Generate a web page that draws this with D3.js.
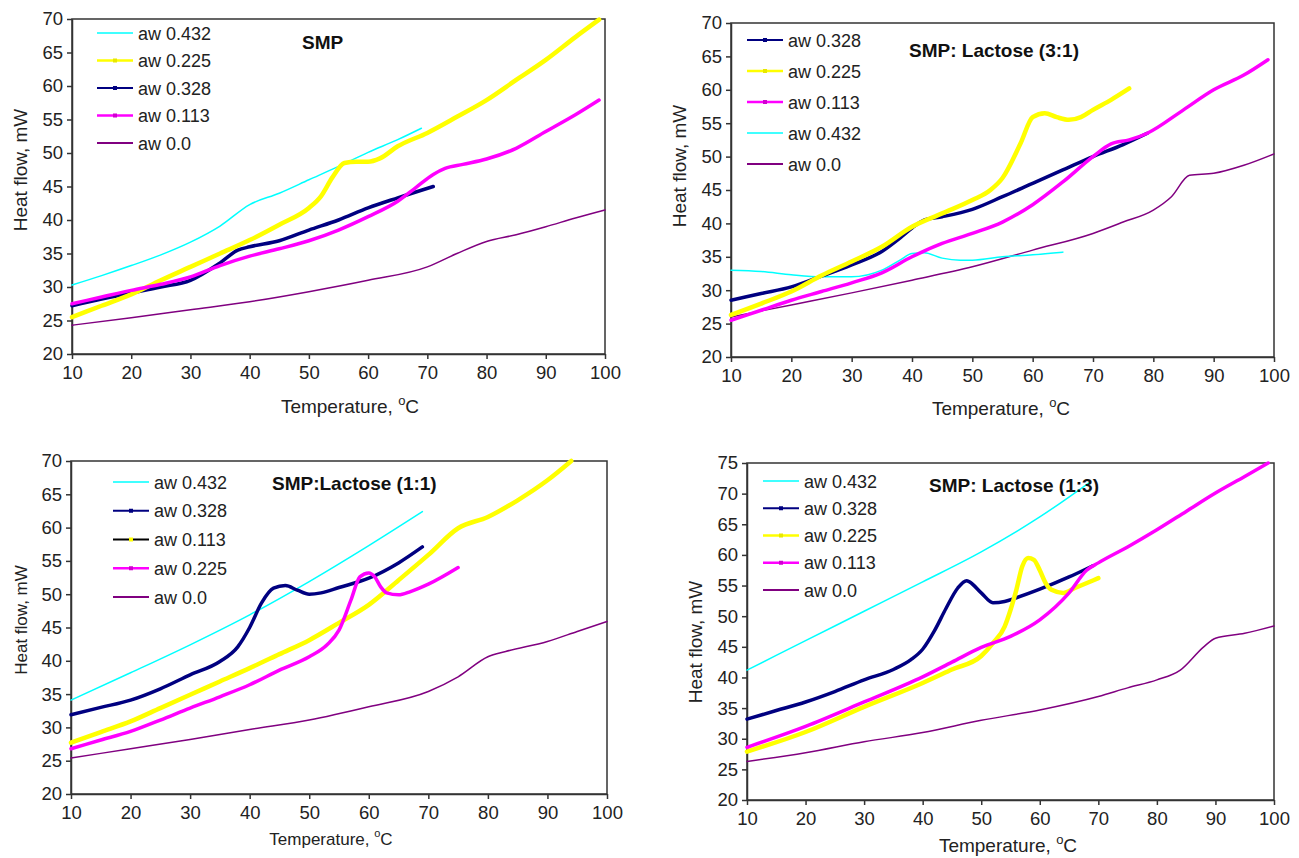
<!DOCTYPE html>
<html>
<head>
<meta charset="utf-8">
<script src="https://cdn.jsdelivr.net/npm/d3@7.9.0/dist/d3.min.js"></script>
<style>
  body { margin: 0; background: #fff; }
  svg { display: block; font-family: "Liberation Sans", Arial, sans-serif; }
</style>
</head>
<body>
<script>
// tick labels
const xTicks = [10, 20, 30, 40, 50, 60, 70, 80, 90, 100];
const yTicks70 = [20, 25, 30, 35, 40, 45, 50, 55, 60, 65, 70];
const yTicks75 = [20, 25, 30, 35, 40, 45, 50, 55, 60, 65, 70, 75];

// SMP  [temperature, heat flow]
const smp432 = [[10,30.3],[15,31.7],[20,33.2],[25,34.8],[30,36.7],[35,39.1],[40,42.3],[45,44.0],[50,46.0],[55,48.0],[60,50.1],[65,52.0],[69,53.7]];
const smp225 = [[10,25.5],[15,27.2],[20,28.9],[25,31.0],[30,33.0],[35,35.0],[40,37.0],[45,39.3],[50,41.8],[52,43.5],[54,46.4],[56,48.5],[58,48.7],[60,48.7],[62,49.2],[65,51.0],[70,53.0],[75,55.4],[80,57.9],[85,60.9],[90,63.9],[95,67.3],[99,69.9]];
const smp328 = [[10,27.2],[15,28.2],[20,29.1],[25,30.0],[30,31.0],[35,33.6],[38,35.5],[40,36.0],[45,36.9],[50,38.5],[55,40.0],[60,41.8],[65,43.3],[71,45.0]];
const smp113 = [[10,27.5],[15,28.5],[20,29.5],[25,30.4],[30,31.5],[35,33.2],[40,34.6],[45,35.7],[50,36.9],[55,38.5],[60,40.5],[65,42.8],[68,44.8],[71,46.8],[73,47.7],[76,48.3],[80,49.1],[85,50.7],[90,53.2],[95,55.7],[99,57.9]];
const smp0 = [[10,24.3],[20,25.4],[30,26.6],[40,27.8],[50,29.3],[60,31.0],[70,33.0],[75,35.0],[80,36.8],[85,37.8],[90,39.0],[95,40.3],[100,41.5]];

// SMP: Lactose (3:1)
const l31_328 = [[10,28.5],[15,29.5],[20,30.5],[25,32.1],[30,33.8],[35,35.8],[38,37.8],[40,39.3],[42,40.5],[45,41.0],[50,42.1],[55,44.0],[60,46.0],[65,48.0],[70,50.0],[75,51.8],[79,53.5]];
const l31_225 = [[10,26.3],[15,28.0],[20,29.8],[25,32.2],[30,34.3],[35,36.5],[40,39.5],[45,41.5],[50,43.5],[53,45.0],[55,46.8],[58,52.0],[60,55.9],[62,56.5],[64,55.9],[66,55.5],[68,55.9],[70,57.0],[73,58.5],[76,60.2]];
const l31_113 = [[10,25.5],[15,27.0],[20,28.5],[25,29.8],[30,31.1],[35,32.6],[40,35.0],[45,37.0],[50,38.5],[55,40.2],[60,42.8],[65,46.2],[70,50.0],[73,51.9],[76,52.5],[79,53.5],[85,57.0],[90,60.0],[95,62.2],[99,64.5]];
const l31_432 = [[10,33.0],[15,32.8],[20,32.3],[25,32.0],[30,32.0],[35,33.0],[38,34.5],[40,35.5],[42,35.6],[45,34.8],[48,34.5],[50,34.5],[55,35.0],[60,35.3],[65,35.7]];
const l31_0 = [[10,26.0],[20,27.8],[30,29.6],[40,31.5],[50,33.5],[60,36.0],[70,38.5],[75,40.2],[80,42.0],[83,44.0],[86,47.2],[90,47.5],[95,48.7],[100,50.4]];

// SMP:Lactose (1:1)
const l11_432 = [[10,34.1],[20,38.2],[30,42.4],[40,46.9],[50,51.9],[60,57.3],[69,62.4]];
const l11_328 = [[10,31.9],[15,33.0],[20,34.1],[25,35.8],[30,37.9],[35,39.9],[38,42.1],[40,45.0],[42,48.7],[44,50.9],[46,51.3],[48,50.6],[50,50.0],[52,50.2],[55,51.0],[60,52.4],[65,54.7],[69,57.1]];
const l11_113 = [[10,27.7],[15,29.3],[20,30.9],[25,32.9],[30,34.9],[35,36.9],[40,38.9],[45,41.0],[50,43.1],[55,45.7],[60,48.4],[65,52.1],[70,55.9],[75,59.9],[80,61.6],[85,64.1],[90,67.1],[94,70.0]];
const l11_225 = [[10,26.8],[15,28.1],[20,29.4],[25,31.1],[30,32.9],[35,34.6],[40,36.4],[45,38.6],[50,40.6],[53,42.4],[55,44.6],[57,49.1],[58.5,52.6],[60,53.2],[61,52.6],[62,51.1],[63,50.2],[65,49.9],[67,50.4],[70,51.5],[75,54.0]];
const l11_0 = [[10,25.4],[20,26.8],[30,28.2],[40,29.7],[50,31.1],[60,33.1],[70,35.4],[75,37.6],[80,40.6],[83,41.4],[90,42.9],[95,44.4],[100,45.9]];

// SMP: Lactose (1:3)
const l13_432 = [[10,41.2],[20,46.0],[30,50.8],[40,55.6],[50,60.5],[60,66.2],[68.6,71.9]];
const l13_328 = [[10,33.2],[15,34.6],[20,36.0],[25,37.7],[30,39.6],[35,41.3],[38,42.9],[40,44.6],[42,47.6],[44,51.3],[46,54.6],[47.5,55.8],[48,55.6],[50,53.8],[52,52.2],[54,52.4],[56,53.0],[60,54.4],[65,56.4],[69,58.2]];
const l13_225 = [[10,27.9],[20,31.1],[30,35.2],[40,39.1],[45,41.3],[50,43.5],[52,45.6],[54,48.3],[55,51.0],[56,54.3],[57,58.1],[58,59.5],[59,59.2],[60,57.5],[61,55.4],[62,54.3],[64,53.8],[66,54.6],[70,56.2]];
const l13_113 = [[10,28.6],[20,32.0],[30,36.0],[40,40.1],[45,42.5],[50,44.9],[55,46.7],[60,49.4],[65,53.8],[68,57.5],[70,58.7],[75,61.3],[80,64.1],[85,67.1],[90,70.1],[95,72.8],[99,75.0]];
const l13_0 = [[10,26.3],[20,27.7],[30,29.5],[40,31.0],[50,33.0],[60,34.7],[70,36.9],[75,38.3],[80,39.6],[84,41.2],[88,45.0],[90,46.4],[95,47.2],[100,48.4]];

const titles = ['SMP', 'SMP: Lactose (3:1)', 'SMP:Lactose (1:1)', 'SMP: Lactose (1:3)'];

// line styles
const sty = {
  cyan:    { color: '#00ffff', width: 1.5, legW: 1.5 },
  yellow:  { color: '#ffff00', width: 4.5, legW: 2.5, mark: '#e8e800' },
  navy:    { color: '#000080', width: 3.5, legW: 2, mark: '#000080' },
  magenta: { color: '#ff00ff', width: 3.5, legW: 2.5, mark: '#d000d0' },
  purple:  { color: '#800080', width: 1.5, legW: 2 },
};

const panels = [
  {
    title: titles[0], tx: 302, ty: 49,
    left: 72, right: 605, top: 19, bottom: 354, yMax: 70, yTicks: yTicks70,
    xt: { x: 350, y: 413, size: 19 }, yt: { x: 27, y: 170, size: 19 },
    leg: { x: 97, y: 33, dy: 27.5 },
    draw: [['purple', smp0], ['cyan', smp432], ['navy', smp328], ['yellow', smp225], ['magenta', smp113]],
    legend: [['aw 0.432', 'cyan'], ['aw 0.225', 'yellow'], ['aw 0.328', 'navy'], ['aw 0.113', 'magenta'], ['aw 0.0', 'purple']],
  },
  {
    title: titles[1], tx: 909, ty: 57,
    left: 731, right: 1274, top: 23, bottom: 357, yMax: 70, yTicks: yTicks70,
    xt: { x: 1001, y: 415, size: 19 }, yt: { x: 686, y: 166, size: 19 },
    leg: { x: 747, y: 40, dy: 31 },
    draw: [['purple', l31_0], ['cyan', l31_432], ['navy', l31_328], ['yellow', l31_225], ['magenta', l31_113]],
    legend: [['aw 0.328', 'navy'], ['aw 0.225', 'yellow'], ['aw 0.113', 'magenta'], ['aw 0.432', 'cyan'], ['aw 0.0', 'purple']],
  },
  {
    title: titles[2], tx: 272, ty: 490,
    left: 71, right: 607, top: 461, bottom: 794, yMax: 70, yTicks: yTicks70,
    xt: { x: 331, y: 845, size: 17 }, yt: { x: 27, y: 620, size: 17 },
    leg: { x: 113, y: 482, dy: 28.75 },
    draw: [['purple', l11_0], ['cyan', l11_432], ['navy', l11_328], ['yellow', l11_113], ['magenta', l11_225]],
    legend: [['aw 0.432', 'cyan'], ['aw 0.328', 'navy'], ['aw 0.113', 'black'], ['aw 0.225', 'magenta'], ['aw 0.0', 'purple']],
  },
  {
    title: titles[3], tx: 929, ty: 492,
    left: 747, right: 1274, top: 463, bottom: 800, yMax: 75, yTicks: yTicks75,
    xt: { x: 1008, y: 852, size: 19 }, yt: { x: 702, y: 642, size: 19 },
    leg: { x: 763, y: 481, dy: 27.25 },
    draw: [['purple', l13_0], ['cyan', l13_432], ['navy', l13_328], ['yellow', l13_225], ['magenta', l13_113]],
    legend: [['aw 0.432', 'cyan'], ['aw 0.328', 'navy'], ['aw 0.225', 'yellow'], ['aw 0.113', 'magenta'], ['aw 0.0', 'purple']],
  },
];

const svg = d3.select('body').append('svg').attr('width', 1299).attr('height', 858);

function drawPanel(p) {
  const x = d3.scaleLinear().domain([10, 100]).range([p.left, p.right]);
  const y = d3.scaleLinear().domain([20, p.yMax]).range([p.bottom, p.top]);
  const g = svg.append('g');

  g.append('rect')
    .attr('x', p.left).attr('y', p.top)
    .attr('width', p.right - p.left).attr('height', p.bottom - p.top)
    .attr('fill', 'none').attr('stroke', '#333').attr('stroke-width', 1.5);

  const xa = g.append('g').attr('transform', `translate(0,${p.bottom})`)
    .call(d3.axisBottom(x).tickValues(xTicks).tickSize(5).tickSizeOuter(0).tickPadding(7));
  const ya = g.append('g').attr('transform', `translate(${p.left},0)`)
    .call(d3.axisLeft(y).tickValues(p.yTicks).tickSize(5).tickSizeOuter(0).tickPadding(4));
  [xa, ya].forEach(a => {
    a.select('.domain').attr('stroke', '#333').attr('stroke-width', 1.5);
    a.selectAll('.tick line').attr('stroke', '#333').attr('stroke-width', 1.5);
    a.selectAll('.tick text').attr('fill', '#222').style('font-size', '18.5px')
      .style('font-family', '"Liberation Sans", Arial, sans-serif');
  });

  const line = d3.line().x(d => x(d[0])).y(d => y(d[1])).curve(d3.curveMonotoneX);
  p.draw.forEach(([key, data]) => {
    const s = sty[key];
    g.append('path').datum(data)
      .attr('d', line)
      .attr('fill', 'none')
      .attr('stroke', s.color)
      .attr('stroke-width', s.width)
      .attr('stroke-linejoin', 'round')
      .attr('stroke-linecap', 'round');
  });

  // legend
  p.legend.forEach(([label, key], i) => {
    const ly = p.leg.y + i * p.leg.dy;
    const s = key === 'black' ? { color: '#000', legW: 2, mark: '#ffff00' } : sty[key];
    g.append('line')
      .attr('x1', p.leg.x).attr('x2', p.leg.x + 36)
      .attr('y1', ly).attr('y2', ly)
      .attr('stroke', s.color).attr('stroke-width', s.legW);
    if (s.mark) {
      g.append('rect')
        .attr('x', p.leg.x + 16).attr('y', ly - 2)
        .attr('width', 4).attr('height', 4)
        .attr('fill', s.mark);
    }
    g.append('text')
      .attr('x', p.leg.x + 41).attr('y', ly + 6.5)
      .attr('fill', '#222').style('font-size', '18px')
      .text(label);
  });

  // panel title
  g.append('text')
    .attr('x', p.tx).attr('y', p.ty)
    .attr('fill', '#111')
    .style('font-size', '19px').style('font-weight', 'bold')
    .text(p.title);

  // x axis title
  const xt = g.append('text')
    .attr('x', p.xt.x).attr('y', p.xt.y)
    .attr('text-anchor', 'middle')
    .attr('fill', '#222').style('font-size', p.xt.size + 'px');
  xt.append('tspan').text('Temperature, ');
  xt.append('tspan').attr('dy', -8).style('font-size', (p.xt.size - 6) + 'px').text('o');
  xt.append('tspan').attr('dy', 8).text('C');

  // y axis title
  g.append('text')
    .attr('transform', `translate(${p.yt.x},${p.yt.y}) rotate(-90)`)
    .attr('text-anchor', 'middle')
    .attr('fill', '#222').style('font-size', p.yt.size + 'px')
    .text('Heat flow, mW');
}

panels.forEach(drawPanel);
</script>
</body>
</html>
